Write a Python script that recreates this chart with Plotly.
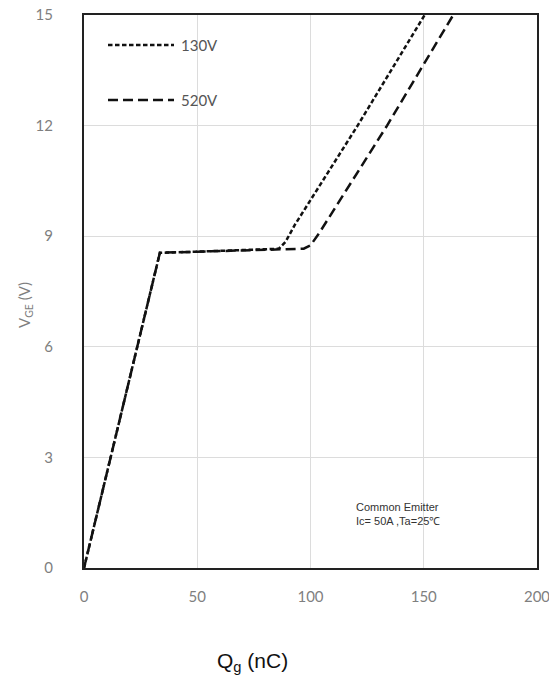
import plotly.graph_objects as go

# Data
q_130 = [0, 33.5, 50, 70, 86, 89, 93, 120.8, 150.4]
v_130 = [0, 8.55, 8.58, 8.62, 8.66, 8.85, 9.3, 12, 15]
q_520 = [0, 33.5, 50, 80, 97, 100, 104, 133.8, 163]
v_520 = [0, 8.55, 8.58, 8.62, 8.66, 8.75, 9.1, 12, 15]
series_names = ["130V", "520V"]
x_ticks = [0, 50, 100, 150, 200]
y_ticks = [0, 3, 6, 9, 12, 15]

DASH_130 = "4.5px,2.5px"
DASH_520 = "10px,5px"

fig = go.Figure()
fig.add_trace(go.Scatter(x=q_130, y=v_130, mode="lines", name=series_names[0],
                         line=dict(color="#111", width=2.5, dash=DASH_130), showlegend=False))
fig.add_trace(go.Scatter(x=q_520, y=v_520, mode="lines", name=series_names[1],
                         line=dict(color="#111", width=2.5, dash=DASH_520), showlegend=False))

tick_font = dict(family="Lato, Open Sans, sans-serif", size=15, color="#7f7f7f")

# page body has an 8px margin, so the figure is offset by 8px
fig.update_layout(
    width=549, height=680,
    margin=dict(l=76, r=20, t=7, b=120),
    paper_bgcolor="white", plot_bgcolor="white",
    xaxis=dict(range=[0, 200], tickvals=x_ticks, showgrid=True, gridcolor="#dcdcdc", gridwidth=1,
               showline=True, linecolor="#222", linewidth=2, mirror=True, zeroline=False,
               ticks="", tickfont=tick_font, ticklabelstandoff=14, automargin=False,
               ticklabeloverflow="allow"),
    yaxis=dict(range=[0, 15], tickvals=y_ticks, showgrid=True, gridcolor="#dcdcdc", gridwidth=1,
               showline=True, linecolor="#222", linewidth=2, mirror=True, zeroline=False,
               ticks="", tickfont=tick_font, ticklabelstandoff=26, automargin=False,
               ticklabeloverflow="allow"),
)

legend_rows = [(series_names[0], DASH_130, 45), (series_names[1], DASH_520, 100)]
for name, dash, yp in legend_rows:
    fig.add_shape(type="line", xref="paper", yref="paper",
                  x0=(108 - 84) / 453, x1=(174 - 84) / 453,
                  y0=(568 - yp) / 553, y1=(568 - yp) / 553,
                  line=dict(color="#111", width=2.5, dash=dash))
    fig.add_annotation(text=name, xref="paper", yref="paper",
                       x=(179 - 84) / 453, y=(568 - yp) / 553, xanchor="left", yanchor="middle",
                       showarrow=False, font=dict(family="Lato, Open Sans, sans-serif", size=15, color="#555"))

fig.add_annotation(text="Common Emitter<br>Ic= 50A ,Ta=25℃", xref="paper", yref="paper",
                   x=(354 - 84) / 453, y=(568 - 514) / 553, xanchor="left", yanchor="middle",
                   align="left", showarrow=False,
                   font=dict(family="Liberation Sans, Arial, sans-serif", size=11, color="#333"))

fig.add_annotation(text="V<sub>GE</sub> (V)", xref="paper", yref="paper",
                   x=(25 - 84) / 453, y=(568 - 305) / 553, xanchor="center", yanchor="middle",
                   textangle=-90, showarrow=False,
                   font=dict(family="Lato, Open Sans, sans-serif", size=15, color="#7f7f7f"))
fig.add_annotation(text="Q<sub>g</sub> (nC)", xref="paper", yref="paper",
                   x=(252 - 84) / 453, y=(568 - 662) / 553, xanchor="center", yanchor="middle",
                   showarrow=False,
                   font=dict(family="Liberation Sans, Arial, sans-serif", size=21, color="#111"))

fig.write_html("out.html")
